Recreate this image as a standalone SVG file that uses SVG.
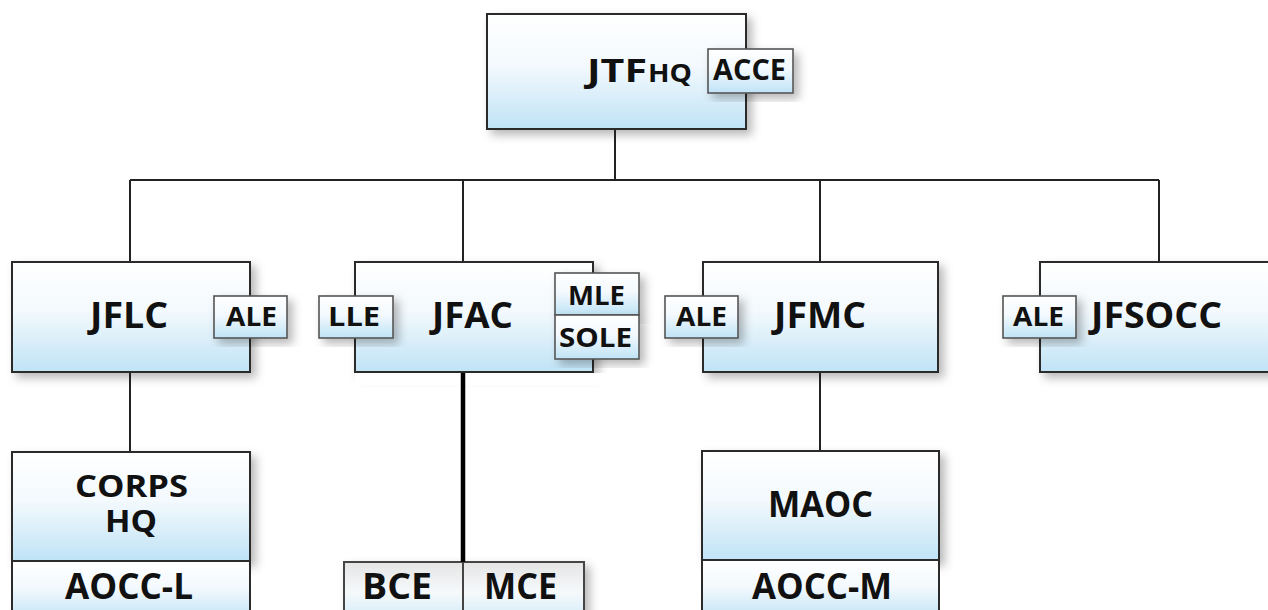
<svg xmlns="http://www.w3.org/2000/svg" width="1268" height="610" viewBox="0 0 1268 610">
<style>
.box{fill:url(#g);stroke:#2b2b2b;stroke-width:2}
.tag{fill:url(#g);stroke:#555;stroke-width:1.6}
.t{font-family:"Open Sans","Liberation Sans",sans-serif;font-weight:700;fill:#111}
.big{font-size:36px}
.mid{font-size:30px}
.sm{font-size:26px}
.ln{stroke:#222;stroke-width:2;fill:none}
</style>
<defs>
<linearGradient id="g" x1="0" y1="0" x2="0" y2="1">
<stop offset="0" stop-color="#ffffff"/>
<stop offset="0.45" stop-color="#f3f9fd"/>
<stop offset="1" stop-color="#bfe3f6"/>
</linearGradient>
<linearGradient id="g2" x1="0" y1="0" x2="0" y2="1">
<stop offset="0" stop-color="#e4e4e4"/>
<stop offset="0.5" stop-color="#f6f9fb"/>
<stop offset="1" stop-color="#cfeaf8"/>
</linearGradient>
<filter id="sh" x="-10%" y="-10%" width="130%" height="130%">
<feDropShadow dx="5" dy="5" stdDeviation="5" flood-color="#000" flood-opacity="0.28"/>
</filter>
</defs>
<rect width="1268" height="610" fill="#fff"/>

<g id="jtfhq">
<rect class="box" x="487" y="14" width="259" height="115" filter="url(#sh)"/>
<text class="t" x="587" y="82" font-size="32" textLength="60" lengthAdjust="spacingAndGlyphs">JTF</text>
<text class="t" x="648" y="82" font-size="25" textLength="44" lengthAdjust="spacingAndGlyphs">HQ</text>
<rect class="tag" x="708" y="49" width="85" height="44" filter="url(#sh)"/>
<text class="t" x="713" y="80" font-size="28" textLength="73" lengthAdjust="spacingAndGlyphs">ACCE</text>
</g>

<g id="jflc">
<rect class="box" x="12" y="262" width="238" height="110" filter="url(#sh)"/>
<text class="t big" x="90" y="328" textLength="78" lengthAdjust="spacingAndGlyphs">JFLC</text>
<rect class="tag" x="214" y="296" width="73" height="42" filter="url(#sh)"/>
<text class="t sm" x="226" y="326" textLength="51" lengthAdjust="spacingAndGlyphs">ALE</text>
</g>

<g id="jfac">
<rect class="box" x="355" y="262" width="238" height="110" filter="url(#sh)"/>
<rect x="355" y="373" width="290" height="12" fill="#fff"/>
<text class="t big" x="432" y="328" textLength="81" lengthAdjust="spacingAndGlyphs">JFAC</text>
<rect class="tag" x="319" y="296" width="74" height="42" filter="url(#sh)"/>
<text class="t sm" x="328" y="326" textLength="52" lengthAdjust="spacingAndGlyphs">LLE</text>
<rect class="tag" x="555" y="273" width="84" height="42" filter="url(#sh)"/>
<rect class="tag" x="555" y="315" width="84" height="44" filter="url(#sh)"/>
<text class="t sm" x="568" y="305" textLength="57" lengthAdjust="spacingAndGlyphs">MLE</text>
<text class="t sm" x="559" y="347" textLength="73" lengthAdjust="spacingAndGlyphs">SOLE</text>
</g>

<g id="jfmc">
<rect class="box" x="703" y="262" width="235" height="110" filter="url(#sh)"/>
<text class="t big" x="774" y="328" textLength="92" lengthAdjust="spacingAndGlyphs">JFMC</text>
<rect class="tag" x="665" y="296" width="73" height="42" filter="url(#sh)"/>
<text class="t sm" x="676" y="326" textLength="51" lengthAdjust="spacingAndGlyphs">ALE</text>
</g>

<g id="jfsocc">
<rect class="box" x="1040" y="262" width="240" height="110" filter="url(#sh)"/>
<text class="t big" x="1091" y="328" textLength="131" lengthAdjust="spacingAndGlyphs">JFSOCC</text>
<rect class="tag" x="1003" y="296" width="73" height="42" filter="url(#sh)"/>
<text class="t sm" x="1013" y="326" textLength="51" lengthAdjust="spacingAndGlyphs">ALE</text>
</g>

<g id="corpshq">
<rect class="box" x="12" y="452" width="238" height="109" filter="url(#sh)"/>
<rect class="box" x="12" y="561" width="238" height="60"/>
<text class="t mid" x="75" y="497" textLength="113" lengthAdjust="spacingAndGlyphs">CORPS</text>
<text class="t mid" x="105" y="532" textLength="52" lengthAdjust="spacingAndGlyphs">HQ</text>
<text class="t big" x="65" y="599" textLength="128" lengthAdjust="spacingAndGlyphs">AOCC-L</text>
</g>

<g id="bce-mce">
<rect x="344" y="562" width="240" height="60" fill="url(#g2)" stroke="#444" stroke-width="2" filter="url(#sh)"/>
<line x1="463" y1="562" x2="463" y2="622" stroke="#444" stroke-width="2"/>
<text class="t big" x="362" y="599" textLength="70" lengthAdjust="spacingAndGlyphs">BCE</text>
<text class="t big" x="484" y="599" textLength="73" lengthAdjust="spacingAndGlyphs">MCE</text>
</g>

<g id="maoc">
<rect class="box" x="702" y="451" width="237" height="109" filter="url(#sh)"/>
<rect class="box" x="702" y="560" width="237" height="60"/>
<text class="t big" x="768" y="517" textLength="105" lengthAdjust="spacingAndGlyphs">MAOC</text>
<text class="t big" x="752" y="599" textLength="140" lengthAdjust="spacingAndGlyphs">AOCC-M</text>
</g>

<g id="connectors">
<path class="ln" d="M615 130V180M130 180H1159M130 180V261M463 180V261M820 180V261M1159 180V261M130 373V451M820 373V450"/>
<path d="M463 373V562" stroke="#000" stroke-width="4.5" fill="none"/>
</g>
</svg>
